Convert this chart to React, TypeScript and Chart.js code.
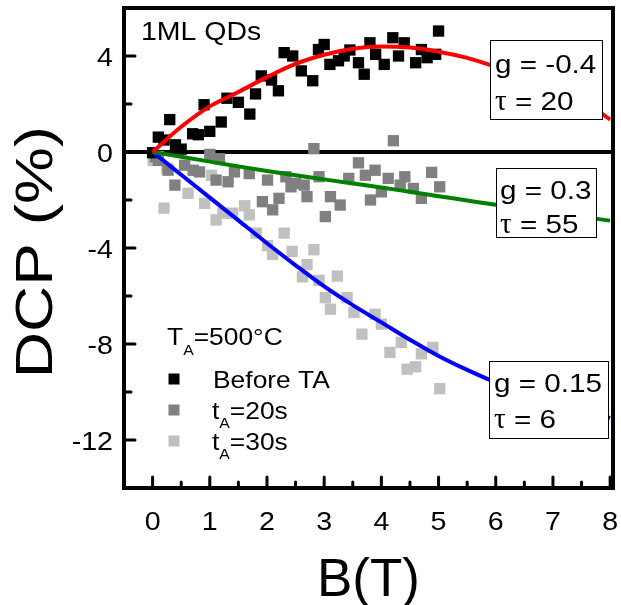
import React, { useEffect, useRef } from "react";
import { Chart, registerables } from "chart.js";

Chart.register(...registerables);

// ---------- data ----------
const beforeTA_B = [0, 0.1, 0.2, 0.3, 0.4, 0.5, 0.7, 0.8, 0.9, 1.0, 1.2, 1.3, 1.5, 1.7, 1.8, 1.9, 2.08, 2.2, 2.3, 2.45, 2.6, 2.8, 2.9, 3.0, 3.1, 3.25, 3.35, 3.45, 3.6, 3.7, 3.8, 3.9, 4.05, 4.2, 4.3, 4.4, 4.6, 4.7, 4.8, 4.95, 5.0];
const beforeTA_DCP = [-0.03, 0.62, 0.5, 1.35, 0.3, 0.12, 0.76, 0.72, 1.97, 0.86, 1.25, 2.24, 2.07, 1.58, 2.42, 3.17, 3.0, 2.55, 4.14, 4.0, 3.38, 2.97, 4.27, 4.48, 3.65, 3.8, 4.0, 4.25, 3.72, 3.24, 4.55, 4.07, 3.65, 4.76, 4.0, 4.55, 3.72, 4.27, 3.93, 4.07, 5.04];

const tA20_B = [0.05, 0.1, 0.27, 0.39, 0.56, 0.71, 0.82, 1.0, 1.11, 1.17, 1.32, 1.43, 1.69, 1.92, 2.01, 2.1, 2.21, 2.33, 2.42, 2.5, 2.65, 2.7, 2.82, 2.91, 3.02, 3.11, 3.28, 3.43, 3.6, 3.72, 3.81, 3.89, 4.0, 4.12, 4.21, 4.33, 4.41, 4.56, 4.7, 4.88, 5.02];
const tA20_DCP = [-0.2, -0.35, -0.76, -1.38, -0.55, -0.76, -0.83, -0.1, -1.17, -0.28, -1.24, -0.83, -0.9, -2.07, -1.17, -2.41, -1.93, -1.03, -1.45, -1.31, -1.38, -1.86, 0.14, -1.03, -2.69, -1.86, -2.21, -1.1, -0.45, -0.97, -2.0, -0.76, -1.66, -1.1, 0.47, -1.38, -1.03, -1.52, -1.93, -0.85, -1.45];

const tA30_B = [0.01, 0.1, 0.2, 0.25, 0.62, 0.91, 1.03, 1.11, 1.23, 1.4, 1.61, 1.69, 1.81, 2.01, 2.1, 2.3, 2.44, 2.62, 2.7, 2.82, 2.91, 3.02, 3.11, 3.23, 3.4, 3.52, 3.66, 3.89, 4.0, 4.15, 4.35, 4.45, 4.6, 4.7, 4.9, 5.02];
const tA30_DCP = [-0.35, -0.2, -2.34, -0.68, -1.72, -2.14, -0.97, -2.83, -2.55, -2.55, -2.24, -2.62, -3.38, -3.9, -4.27, -3.38, -4.14, -5.2, -4.69, -4.07, -5.35, -6.07, -6.55, -5.17, -6.07, -6.69, -7.59, -6.76, -7.17, -8.35, -7.93, -9.05, -8.95, -8.41, -8.14, -9.86];

const fitB = [0, 0.5, 1, 1.5, 2, 2.5, 3, 3.5, 4, 4.5, 5, 5.5, 6, 6.5, 7, 7.5, 8];
const fitRed = [0, 1.05, 1.9, 2.5, 3.12, 3.67, 4.05, 4.3, 4.4, 4.35, 4.18, 3.92, 3.55, 3.15, 2.72, 2.2, 1.35];
const fitGreen = [0, -0.2, -0.4, -0.6, -0.79, -0.97, -1.14, -1.31, -1.48, -1.66, -1.84, -2.02, -2.2, -2.37, -2.53, -2.7, -2.86];
const fitBlue = [0, -0.95, -1.9, -2.85, -3.8, -4.72, -5.6, -6.38, -7.1, -7.82, -8.5, -9.08, -9.6, -10.02, -10.4, -10.75, -11.08];

const xTickValues = [0, 1, 2, 3, 4, 5, 6, 7, 8];
const xTickLabels = ["0", "1", "2", "3", "4", "5", "6", "7", "8"];
const xMinorValues = [0.5, 1.5, 2.5, 3.5, 4.5, 5.5, 6.5, 7.5];
const yTickValues = [4, 0, -4, -8, -12];
const yTickLabels = ["4", "0", "-4", "-8", "-12"];
const yMinorValues = [2, -2, -6, -10];

const seriesLabels = ["Before TA", "20s", "30s"];
const seriesColors = ["#000000", "#808080", "#c0c0c0"];

const SANS = "'Liberation Sans', Arial, Helvetica, sans-serif";
const SERIF = "'Liberation Serif', 'Times New Roman', serif";

function txt(
  ctx: CanvasRenderingContext2D,
  s: string,
  x: number,
  y: number,
  size: number,
  o: { sx?: number; align?: CanvasTextAlign; rot?: number; family?: string } = {}
): number {
  const sx = o.sx ?? 1;
  ctx.save();
  ctx.translate(x, y);
  if (o.rot) ctx.rotate(o.rot);
  ctx.scale(sx, 1);
  ctx.font = `${size}px ${o.family ?? SANS}`;
  ctx.textAlign = o.align ?? "left";
  ctx.textBaseline = "alphabetic";
  ctx.fillStyle = "#000";
  ctx.fillText(s, 0, 0);
  const w = ctx.measureText(s).width * sx;
  ctx.restore();
  return w;
}

const decor = {
  id: "decor",
  beforeDatasetsDraw(chart: any) {
    const { ctx, chartArea: a, scales } = chart;
    const y0 = scales.y.getPixelForValue(0);
    ctx.save();
    ctx.strokeStyle = "#000";
    ctx.lineWidth = 4;
    ctx.beginPath();
    ctx.moveTo(a.left, y0);
    ctx.lineTo(a.right, y0);
    ctx.stroke();
    ctx.restore();
  },
  afterDatasetsDraw(chart: any) {
    const { ctx, chartArea: a, scales } = chart;
    const xs = scales.x;
    const ys = scales.y;
    ctx.save();

    // annotation boxes
    const boxes = [
      { r: [490, 40, 602, 119], l1: "g = -0.4", l2: " = 20", tx: 495, b1: 73, b2: 110 },
      { r: [496, 168, 596, 237], l1: "g = 0.3", l2: " = 55", tx: 500, b1: 199, b2: 233 },
      { r: [489, 361, 608, 438], l1: "g = 0.15", l2: " = 6", tx: 494, b1: 392, b2: 428 },
    ];
    for (const b of boxes) {
      ctx.fillStyle = "#fff";
      ctx.fillRect(b.r[0], b.r[1], b.r[2] - b.r[0], b.r[3] - b.r[1]);
      ctx.strokeStyle = "#000";
      ctx.lineWidth = 1;
      ctx.strokeRect(b.r[0] + 0.5, b.r[1] + 0.5, b.r[2] - b.r[0], b.r[3] - b.r[1]);
      txt(ctx, b.l1, b.tx, b.b1, 26, { sx: 1.14 });
      const w = txt(ctx, "τ", b.tx, b.b2, 29, { family: SERIF });
      txt(ctx, b.l2, b.tx + w, b.b2, 26, { sx: 1.14 });
    }

    // frame
    ctx.strokeStyle = "#000";
    ctx.lineWidth = 4;
    ctx.strokeRect(a.left, a.top, a.right - a.left, a.bottom - a.top);

    // ticks
    ctx.lineWidth = 3;
    ctx.lineCap = "round";
    const tick = (x1: number, y1: number, x2: number, y2: number) => {
      ctx.beginPath();
      ctx.moveTo(x1, y1);
      ctx.lineTo(x2, y2);
      ctx.stroke();
    };
    xTickValues.forEach((v) => {
      const p = xs.getPixelForValue(v);
      tick(p, a.bottom, p, a.bottom - 11);
    });
    xMinorValues.forEach((v) => {
      const p = xs.getPixelForValue(v);
      tick(p, a.bottom, p, a.bottom - 6);
    });
    yTickValues.forEach((v) => {
      const p = ys.getPixelForValue(v);
      tick(a.left, p, a.left + 11, p);
    });
    yMinorValues.forEach((v) => {
      const p = ys.getPixelForValue(v);
      tick(a.left, p, a.left + 7, p);
    });

    // tick labels
    xTickValues.forEach((v, i) => {
      txt(ctx, xTickLabels[i], xs.getPixelForValue(v), 530, 26, { sx: 1.1, align: "center" });
    });
    yTickValues.forEach((v, i) => {
      txt(ctx, yTickLabels[i], 113, ys.getPixelForValue(v) + 9.5, 26, { sx: 1.1, align: "right" });
    });

    // axis titles
    txt(ctx, "B(T)", (a.left + a.right) / 2, 596, 53, { align: "center" });
    txt(ctx, "DCP (%)", 52, 252, 52, { align: "center", rot: -Math.PI / 2, sx: 1.23 });

    // sample label
    txt(ctx, "1ML QDs", 141, 40, 25, { sx: 1.14 });

    // legend
    let w = txt(ctx, "T", 167, 345, 24, { sx: 1.1 });
    w += txt(ctx, "A", 167 + w, 355, 15, { sx: 1.05 });
    txt(ctx, "=500°C", 167 + w, 345, 24, { sx: 1.1 });

    const rows = [379, 410, 441];
    rows.forEach((ry, i) => {
      ctx.fillStyle = seriesColors[i];
      ctx.fillRect(174 - 5.5, ry - 5.5, 11, 11);
      if (i === 0) {
        txt(ctx, seriesLabels[0], 213, ry + 8.5, 24, { sx: 1.1 });
      } else {
        let ww = txt(ctx, "t", 212, ry + 8.5, 24, { sx: 1.1 });
        ww += txt(ctx, "A", 212 + ww, ry + 18, 15, { sx: 1.05 });
        txt(ctx, "=" + seriesLabels[i], 212 + ww, ry + 8.5, 24, { sx: 1.1 });
      }
    });

    ctx.restore();
  },
};

function pts(xsArr: number[], ysArr: number[]) {
  return xsArr.map((x, i) => ({ x, y: ysArr[i] }));
}

export default function App() {
  const ref = useRef<HTMLCanvasElement | null>(null);
  useEffect(() => {
    if (!ref.current) return;
    const fitStyle = (color: string) => ({
      type: "line" as const,
      borderColor: color,
      borderWidth: 4,
      pointRadius: 0,
      fill: false,
      cubicInterpolationMode: "monotone" as const,
      order: 0,
    });
    const pointStyle = (color: string) => ({
      type: "scatter" as const,
      backgroundColor: color,
      borderWidth: 0,
      pointStyle: "rect" as const,
      pointRadius: 8,
      order: 1,
    });
    const chart = new Chart(ref.current, {
      type: "scatter",
      data: {
        datasets: [
          { label: "g=-0.4", data: pts(fitB, fitRed), ...fitStyle("#ff0000") },
          { label: "g=0.3", data: pts(fitB, fitGreen), ...fitStyle("#008000") },
          { label: "g=0.15", data: pts(fitB, fitBlue), ...fitStyle("#0000ff") },
          { label: seriesLabels[0], data: pts(beforeTA_B, beforeTA_DCP), ...pointStyle(seriesColors[0]) },
          { label: seriesLabels[1], data: pts(tA20_B, tA20_DCP), ...pointStyle(seriesColors[1]) },
          { label: seriesLabels[2], data: pts(tA30_B, tA30_DCP), ...pointStyle(seriesColors[2]) },
        ] as any,
      },
      options: {
        responsive: false,
        devicePixelRatio: 1,
        animation: false,
        layout: { padding: { left: 124, right: 5, top: 5, bottom: 117 } },
        scales: {
          x: { type: "linear", min: -0.5, max: 8.05, display: false },
          y: { type: "linear", min: -14, max: 6, display: false },
        },
        plugins: {
          legend: { display: false },
          tooltip: { enabled: false },
        },
      },
      plugins: [decor],
    });
    return () => chart.destroy();
  }, []);
  return (
    <div style={{ position: "absolute", left: 0, top: 0, width: 621, height: 605, background: "#fff" }}>
      <canvas ref={ref} width={621} height={605} style={{ display: "block" }} />
    </div>
  );
}
